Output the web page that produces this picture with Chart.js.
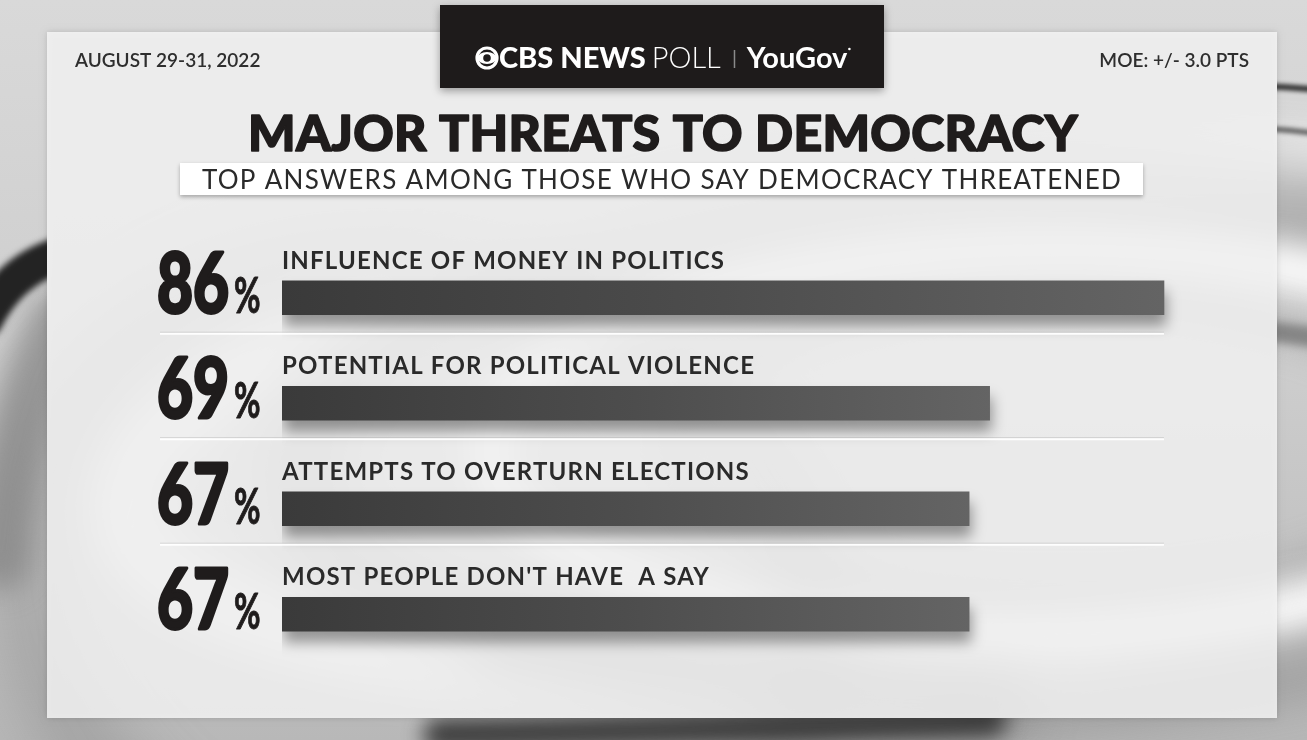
<!DOCTYPE html>
<html>
<head>
<meta charset="utf-8">
<script src="https://cdn.jsdelivr.net/npm/chart.js@4.4.1/dist/chart.umd.min.js"></script>
<style>
  html, body { margin: 0; padding: 0; background: #c9c9c9; overflow: hidden; }
  canvas { display: block; }
</style>
</head>
<body>
<canvas id="pollChart" width="1307" height="740"></canvas>
<script>
  // poll answers, top to bottom
  const threats = [
    'INFLUENCE OF MONEY IN POLITICS',
    'POTENTIAL FOR POLITICAL VIOLENCE',
    'ATTEMPTS TO OVERTURN ELECTIONS',
    'MOST PEOPLE DON\'T HAVE  A SAY'
  ];
  const shares = [86, 69, 67, 67];

  const titleText = 'MAJOR THREATS TO DEMOCRACY';
  const subtitleText = 'TOP ANSWERS AMONG THOSE WHO SAY DEMOCRACY THREATENED';
  const dateText = 'AUGUST 29-31, 2022';
  const moeText = 'MOE: +/- 3.0 PTS';

  const sans = 'Lato, "Open Sans", sans-serif';

  function swirl(ctx, cx, cy, rx, ry, rot, width, color, blur) {
    ctx.save();
    ctx.filter = 'blur(' + blur + 'px)';
    ctx.strokeStyle = color;
    ctx.lineWidth = width;
    ctx.beginPath();
    ctx.ellipse(cx, cy, rx, ry, rot, 0, Math.PI * 2);
    ctx.stroke();
    ctx.restore();
  }

  function streak(ctx, pts, width, color, blur) {
    ctx.save();
    ctx.filter = 'blur(' + blur + 'px)';
    ctx.strokeStyle = color;
    ctx.lineWidth = width;
    ctx.lineCap = 'round';
    ctx.beginPath();
    ctx.moveTo(pts[0], pts[1]);
    ctx.quadraticCurveTo(pts[2], pts[3], pts[4], pts[5]);
    ctx.stroke();
    ctx.restore();
  }

  const backdrop = {
    id: 'backdrop',
    beforeDraw(chart) {
      const ctx = chart.ctx;
      const W = chart.width, H = chart.height;
      ctx.save();
      let g = ctx.createLinearGradient(0, 0, 0, H);
      g.addColorStop(0, '#d9d9d9');
      g.addColorStop(0.5, '#cdcdcd');
      g.addColorStop(1, '#b8b8b8');
      ctx.fillStyle = g;
      ctx.fillRect(0, 0, W, H);

      // soft swirls, seen faintly through the panel
      swirl(ctx, 1000, 420, 880, 240, -0.10, 70, 'rgba(255,255,255,0.8)', 20);
      swirl(ctx, 1000, 440, 700, 250, -0.05, 80, 'rgba(110,110,110,0.45)', 28);
      swirl(ctx, 1030, 440, 540, 190, -0.02, 45, 'rgba(255,255,255,0.85)', 14);
      swirl(ctx, 1060, 450, 390, 150, 0.0, 30, 'rgba(140,140,140,0.35)', 16);
      swirl(ctx, 420, 600, 400, 330, 0.3, 70, 'rgba(120,120,120,0.35)', 30);
      streak(ctx, [500, 640, 750, 680, 1000, 700], 60, 'rgba(90,90,90,0.45)', 25);

      // marks that only show in the outer frame
      ctx.save();
      ctx.beginPath();
      ctx.rect(0, 0, W, H);
      ctx.rect(47, 32, 1230, 686);
      ctx.clip('evenodd');
      streak(ctx, [0, 560, 10, 420, 60, 320], 60, 'rgba(120,120,120,0.6)', 14);
      streak(ctx, [-15, 320, 10, 270, 60, 255], 36, 'rgba(25,25,25,0.95)', 3);
      streak(ctx, [1260, 86, 1290, 87, 1320, 90], 6, 'rgba(30,30,30,0.9)', 2);
      streak(ctx, [1260, 128, 1290, 130, 1320, 134], 5, 'rgba(60,60,60,0.8)', 2);
      streak(ctx, [1260, 330, 1290, 334, 1320, 338], 20, 'rgba(110,110,110,0.7)', 4);
      streak(ctx, [440, 735, 700, 730, 990, 720], 34, 'rgba(50,50,50,0.9)', 10);
      ctx.restore();

      // translucent white panel
      ctx.shadowColor = 'rgba(0,0,0,0.18)';
      ctx.shadowBlur = 6;
      ctx.fillStyle = 'rgba(246,246,246,0.85)';
      ctx.fillRect(47, 32, 1230, 686);
      ctx.restore();

      // header strip
      ctx.save();
      ctx.shadowColor = 'rgba(0,0,0,0.35)';
      ctx.shadowBlur = 8;
      ctx.shadowOffsetY = 3;
      ctx.fillStyle = '#1e1b1b';
      ctx.fillRect(440, 5, 444, 83);
      ctx.restore();

      ctx.save();
      const cy = 58;
      // CBS eye
      ctx.strokeStyle = '#fff';
      ctx.fillStyle = '#fff';
      ctx.lineWidth = 3.2;
      ctx.beginPath();
      ctx.arc(487, cy, 10, 0, Math.PI * 2);
      ctx.stroke();
      ctx.beginPath();
      ctx.ellipse(487, cy, 9.5, 6, 0, 0, Math.PI * 2);
      ctx.fill();
      ctx.fillStyle = '#1e1b1b';
      ctx.beginPath();
      ctx.arc(487, cy, 3.8, 0, Math.PI * 2);
      ctx.fill();

      ctx.fillStyle = '#fff';
      ctx.textBaseline = 'alphabetic';
      let x = 499;
      ctx.font = '900 29px ' + sans;
      ctx.fillText('CBS NEWS', x, 68);
      x += ctx.measureText('CBS NEWS').width + 6;
      ctx.font = '300 29px ' + sans;
      ctx.fillText('POLL', x, 68);
      x += ctx.measureText('POLL').width + 13;
      ctx.fillStyle = '#8a8a8a';
      ctx.fillRect(x, 50, 1.5, 18);
      x += 13;
      ctx.fillStyle = '#fff';
      ctx.font = '700 29px ' + sans;
      ctx.fillText('YouGov', x, 68);
      const yw = ctx.measureText('YouGov').width;
      ctx.beginPath();
      ctx.arc(x + yw + 2, 49, 1.3, 0, Math.PI * 2);
      ctx.fill();
      ctx.restore();

      // date / moe / titles
      ctx.save();
      ctx.fillStyle = '#2e2e2e';
      ctx.font = '600 19px ' + sans;
      ctx.textAlign = 'left';
      ctx.fillText(dateText, 75, 67);
      ctx.textAlign = 'right';
      ctx.fillText(moeText, 1249, 67);

      ctx.textAlign = 'center';
      ctx.fillStyle = '#1f1c1c';
      ctx.strokeStyle = '#1f1c1c';
      ctx.lineWidth = 1.6;
      ctx.lineJoin = 'round';
      ctx.font = '900 50px ' + sans;
      ctx.letterSpacing = '0.3px';
      ctx.fillText(titleText, 663, 151);
      ctx.strokeText(titleText, 663, 151);

      ctx.shadowColor = 'rgba(0,0,0,0.3)';
      ctx.shadowBlur = 4;
      ctx.shadowOffsetY = 2;
      ctx.fillStyle = '#ffffff';
      ctx.fillRect(180, 163, 963, 32);
      ctx.shadowColor = 'transparent';
      ctx.fillStyle = '#2a2a2a';
      ctx.font = '400 26px ' + sans;
      ctx.letterSpacing = '1.3px';
      ctx.fillText(subtitleText, 662, 189);
      ctx.restore();
    }
  };

  const barShadow = {
    id: 'barShadow',
    beforeDatasetDraw(chart) {
      const ctx = chart.ctx;
      ctx.save();
      ctx.shadowColor = 'rgba(0,0,0,0.38)';
      ctx.shadowBlur = 14;
      ctx.shadowOffsetY = 11;
      ctx.shadowOffsetX = 2;
    },
    afterDatasetDraw(chart) {
      chart.ctx.restore();
    }
  };

  const rowLabels = {
    id: 'rowLabels',
    afterDatasetsDraw(chart) {
      const ctx = chart.ctx;
      const ys = chart.scales.y;
      const xs = chart.scales.x;
      const x0 = xs.getPixelForValue(0);
      const xEnd = xs.getPixelForValue(shares[0]);
      ctx.save();
      threats.forEach((t, i) => {
        const yc = ys.getPixelForValue(i);
        // answer text above bar
        ctx.fillStyle = '#2a2a2a';
        ctx.font = '700 24px ' + sans;
        ctx.letterSpacing = '1.2px';
        ctx.textAlign = 'left';
        ctx.fillText(t, x0, yc - 29);
        ctx.letterSpacing = '0px';

        // big percentage, squeezed into a condensed look
        ctx.fillStyle = '#1f1c1c';
        ctx.strokeStyle = '#1f1c1c';
        ctx.lineJoin = 'round';
        ctx.save();
        ctx.translate(157, yc + 15);
        ctx.scale(0.74, 1);
        ctx.font = '900 84px ' + sans;
        ctx.lineWidth = 3;
        ctx.fillText(String(shares[i]), 0, 0);
        ctx.strokeText(String(shares[i]), 0, 0);
        ctx.restore();
        ctx.save();
        ctx.translate(234, yc + 15);
        ctx.scale(0.66, 1);
        ctx.font = '700 49px ' + sans;
        ctx.lineWidth = 1;
        ctx.fillText('%', 0, 0);
        ctx.strokeText('%', 0, 0);
        ctx.restore();

        // separator
        if (i < threats.length - 1) {
          const ly = yc + 35;
          ctx.fillStyle = 'rgba(150,150,150,0.35)';
          ctx.fillRect(160, ly - 1, xEnd - 160, 1);
          ctx.fillStyle = 'rgba(255,255,255,0.95)';
          ctx.fillRect(160, ly, xEnd - 160, 2);
        }
      });
      ctx.restore();
    }
  };

  function barFill(c) {
    const chart = c.chart;
    if (!chart.chartArea) return '#505050';
    const xs = chart.scales.x;
    const a = xs.getPixelForValue(0);
    const b = xs.getPixelForValue(c.raw);
    const g = chart.ctx.createLinearGradient(a, 0, b, 0);
    g.addColorStop(0, '#3a3a3a');
    g.addColorStop(0.5, '#4d4d4d');
    g.addColorStop(1, '#646464');
    return g;
  }

  const ctx = document.getElementById('pollChart').getContext('2d');
  const pollChart = new Chart(ctx, {
    type: 'bar',
    data: {
      labels: threats,
      datasets: [{
        data: shares,
        backgroundColor: barFill,
        borderWidth: 0,
        barThickness: 34
      }]
    },
    options: {
      indexAxis: 'y',
      responsive: false,
      animation: false,
      layout: { padding: { left: 282, right: 102, top: 245, bottom: 73 } },
      plugins: {
        legend: { display: false },
        tooltip: { enabled: false }
      },
      scales: {
        x: { display: false, min: 0, max: 90 },
        y: { display: false }
      }
    },
    plugins: [backdrop, barShadow, rowLabels]
  });
</script>
</body>
</html>
